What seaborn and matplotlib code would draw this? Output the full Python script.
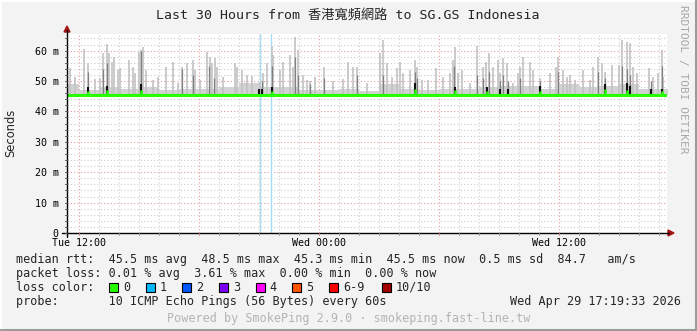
import matplotlib
matplotlib.use("Agg")
import matplotlib.pyplot as plt
import seaborn as sns
import numpy as np
import pandas as pd
from matplotlib.patches import Rectangle, Polygon
from matplotlib.lines import Line2D
from matplotlib.ticker import MultipleLocator, FixedLocator

# ---------------- data (hours relative to Tue 12:00, values in ms) ----------------
median_hours = [-1, 0, 1, 2, 3, 4, 5, 6, 7, 8, 9, 10, 11, 12, 13, 14, 15, 16, 17, 18,
                19, 20, 21, 22, 23, 24, 25, 26, 27, 28, 29, 30]
median_rtt = [45.5, 45.5, 45.5, 45.5, 45.5, 45.5, 45.5, 45.5, 45.5, 45.5, 45.5, 45.5,
              45.5, 45.5, 45.5, 45.5, 45.5, 45.5, 45.5, 45.5, 45.5, 45.5, 45.5, 45.5,
              45.5, 45.5, 45.5, 45.5, 45.5, 45.5, 45.5, 45.5]
# hourly smoke envelope (upper edge of the dense smoke band)
smoke_base = [49.0, 47.0, 48.0, 47.5, 48.0, 47.0, 47.5, 47.5, 48.0, 49.5, 48.0, 48.0,
              47.0, 47.0, 47.5, 46.8, 49.0, 47.5, 47.0, 47.5, 47.5, 48.0, 48.5, 48.5,
              47.5, 49.0, 48.0, 48.5, 49.0, 47.5, 47.5, 47.5]
# light smoke spikes (max ping)
spike_hours = [-0.47, -0.22, 0.235, 0.45, 0.785, 1.035, 1.17, 1.40, 1.50, 1.62, 1.735,
               1.95, 2.035, 2.50, 2.67, 2.785, 3.0, 3.07, 3.2, 3.335, 3.7, 3.95, 4.335,
               4.70, 4.95, 5.135, 5.37, 5.70, 5.785, 6.035, 6.37, 6.535, 6.62, 6.785,
               6.87, 7.2, 7.785, 7.9, 8.12, 8.37, 8.62, 9.035, 9.2, 9.37, 9.62, 9.70,
               10.035, 10.2, 10.535, 10.67, 10.8, 10.95, 11.37,
               11.2, 11.535, 11.785, 12.235, 12.70, 13.2, 13.45, 13.67, 13.9, 14.37,
               15.035, 15.17, 15.4, 15.62, 15.87, 16.035, 16.2, 16.535, 16.785, 16.87,
               17.12, 17.45, 17.82, 18.2, 18.535, 18.67, 18.8, 18.95, 19.12, 19.535,
               19.87, 20.17, 20.335, 20.485, 20.67, 20.95, 21.035, 21.2, 21.37, 21.7,
               21.95, 22.035, 22.2, 22.535, 22.7, 23.035, 23.535, 23.835, 23.95, 24.2,
               24.37, 24.535, 24.785, 25.2, 25.535, 25.7, 25.95, 26.12, 26.285, 26.62,
               27.0, 27.12, 27.37, 27.535, 27.7, 27.87, 28.5, 28.7, 28.95, 29.12, 29.2]
spike_max = [54.2, 51.4, 60.5, 55.8, 50.5, 50.9, 59.1, 62.2, 59.1, 56.4, 58.0,
             53.6, 54.2, 56.9, 54.7, 52.5, 59.65, 60.2, 61.3, 53.6, 50.3, 51.4, 54.7,
             56.4, 49.2, 54.7, 55.8, 56.9, 53.6, 50.3, 59.65, 58.0, 55.8, 57.5,
             54.7, 51.4, 55.8, 54.7, 53.6, 52.0, 51.8, 49.8, 52.5, 55.8, 61.5, 58.5,
             53.6, 56.4, 58.5, 54.7, 64.4, 60.2, 50.3,
             51.9, 50.0, 51.4, 54.7, 50.0, 50.5, 56.4, 54.7, 54.7, 49.5,
             59.1, 63.5, 55.8, 51.4, 54.2, 56.4, 52.5, 53.6, 56.9, 54.7,
             50.3, 50.3, 54.2, 51.4, 52.5, 56.9, 61.3, 52.5, 53.6, 49.5,
             61.5, 54.7, 56.4, 59.1, 54.7, 56.9, 52.5, 57.5, 55.8, 49.2,
             52.5, 54.7, 58.0, 56.4, 53.6, 50.9, 52.5, 54.7, 58.0, 53.6,
             51.4, 52.0, 50.3, 53.6, 50.3, 54.7, 58.0, 55.8, 53.0, 55.3,
             55.3, 63.5, 62.9, 62.4, 54.7, 52.5, 54.2, 51.4, 52.5, 60.2, 51.4]
# darker smoke (inner pings)
mid_hours = [0.45, 1.17, 1.40, 3.07, 5.12, 5.70, 6.5, 6.74, 9.12, 9.62, 10.8, 10.95,
             11.535, 12.235, 13.9, 15.17, 16.785, 16.87, 18.74, 19.87, 20.17, 20.485,
             21.035, 21.2, 21.45, 22.035, 23.035, 23.95, 25.95, 26.285, 27.12, 27.37,
             27.535, 28.6, 29.12]
mid_max = [53.0, 54.0, 56.0, 60.0, 54.0, 52.0, 55.0, 51.0, 50.0, 55.0, 58.0, 52.0,
           49.0, 51.0, 52.0, 52.0, 53.0, 51.0, 55.0, 52.0, 51.0, 53.0,
           50.0, 52.0, 50.0, 51.0, 50.0, 53.0, 53.0, 51.0, 55.0, 54.0,
           52.0, 50.0, 55.0]
dark_hours = [0.45, 1.40, 3.07, 9.0, 9.12, 9.62, 16.8, 18.8, 20.4, 21.05, 21.45,
              23.03, 26.3, 27.37, 27.53, 28.6, 29.12]
dark_max = [48.0, 48.5, 49.0, 47.5, 47.5, 48.0, 49.5, 48.0, 48.0, 47.5, 47.5,
            48.5, 49.0, 49.5, 48.5, 47.5, 47.5]
blip_hours = [0.45, 1.40, 3.07, 9.62, 16.8, 18.8, 20.4, 23.03, 26.3, 27.37, 29.12]
blip_val = [46.8, 47.2, 47.0, 46.8, 47.5, 46.9, 46.7, 46.8, 47.4, 47.2, 46.6]
loss_hours = [9.035, 9.6]

x_ticks_major = [0, 6, 12, 18, 24]
x_tick_labels = {0: "Tue 12:00", 12: "Wed 00:00", 24: "Wed 12:00"}
y_ticks = [0, 10, 20, 30, 40, 50, 60]
y_tick_labels = ["0", "10 m", "20 m", "30 m", "40 m", "50 m", "60 m"]

loss_labels = ["0", "1", "2", "3", "4", "5", "6-9", "10/10"]
loss_colors = ["#26ff00", "#00b8ff", "#0059ff", "#7e00ff", "#ff00ff", "#ff5500",
               "#ff0000", "#a10000"]

# ---------------- figure ----------------
sns.set_style("white")
plt.rcParams["font.family"] = ["DejaVu Sans Mono", "Noto Sans CJK TC"]

W, H = 697, 331
BG = "#f3f3f3"
fig = plt.figure(figsize=(W / 100, H / 100), dpi=100, facecolor=BG)

def fx(px):
    return px / W

def fy(py):
    return 1 - py / H

L, R, T, B = 67, 667, 33.9, 233
XMIN, XMAX = -0.615, 29.385
ax = fig.add_axes([fx(L), fy(B), (R - L) / W, (B - T) / H])
ax.set_facecolor("white")
ax.set_xlim(XMIN, XMAX)
ax.set_ylim(0, 65.5)

# grid
ax.xaxis.set_major_locator(FixedLocator(x_ticks_major))
ax.xaxis.set_minor_locator(MultipleLocator(1))
ax.yaxis.set_major_locator(FixedLocator(y_ticks))
ax.yaxis.set_minor_locator(MultipleLocator(2))
ax.grid(which="minor", color="#cccccc", linestyle=(0, (1, 2)), linewidth=0.8)
ax.grid(which="major", color="#e39a9a", linestyle=(0, (1, 2)), linewidth=0.8)
ax.set_axisbelow(True)

# smoke
ax.fill_between(median_hours, median_rtt, smoke_base, step="post", color="#d2d2d2",
                linewidth=0, zorder=2)
ax.vlines(spike_hours, 45.5, spike_max, color="#c2c2c2", linewidth=1.2, zorder=3)
ax.vlines(mid_hours, 45.5, mid_max, color="#808080", linewidth=0.9, zorder=4)
ax.vlines(dark_hours, 45.5, dark_max, color="#111111", linewidth=1.5, zorder=5)

# loss lines
for h in loss_hours:
    ax.axvline(h, color="#a6dcf4", linewidth=1.0, zorder=2.5)

# median
df = pd.DataFrame({"hours": median_hours, "rtt": median_rtt})
sns.lineplot(data=df, x="hours", y="rtt", ax=ax, color="#26ff00", linewidth=2.2,
             zorder=6, legend=False)
ax.vlines(blip_hours, 45.5, blip_val, color="#26ff00", linewidth=1.8, zorder=7)

# ticks and labels
ax.set_xlabel("")
ax.set_ylabel("")
ax.set_xticklabels([x_tick_labels.get(t, "") for t in x_ticks_major])
ax.set_yticklabels(y_tick_labels)
ax.tick_params(axis="x", which="both", length=0, labelsize=7.2, pad=3.5, colors="black")
ax.tick_params(axis="y", which="both", length=0, labelsize=7.2, pad=6, colors="black")
for s in ax.spines.values():
    s.set_visible(False)

# axis lines, small ticks and arrows (pixel decoration)
fig.add_artist(Line2D([fx(L), fx(L)], [fy(B + 4), fy(30)], color="black", lw=1.0))
fig.add_artist(Line2D([fx(62), fx(669)], [fy(B), fy(B)], color="black", lw=1.0))
for t in range(0, 66, 2):
    py = B - (B - T) * t / 65.5
    fig.add_artist(Line2D([fx(L - 2), fx(L)], [fy(py), fy(py)], color="#555555", lw=0.7))
for hr in range(0, 30):
    px = L + (R - L) * (hr - XMIN) / (XMAX - XMIN)
    col = "#d08080" if hr % 6 == 0 else "#999999"
    fig.add_artist(Line2D([fx(px), fx(px)], [fy(B + 2), fy(B)], color=col, lw=0.7))
fig.add_artist(Polygon([[fx(L - 3), fy(32)], [fx(L + 3), fy(32)], [fx(L), fy(26)]],
                       closed=True, color="#a31515"))
fig.add_artist(Polygon([[fx(668), fy(B - 3)], [fx(668), fy(B + 3)], [fx(674), fy(B)]],
                       closed=True, color="#a31515"))

# y label
fig.text(fx(11), fy(133), "Seconds", rotation=90, ha="center", va="center",
         fontsize=8.3, family="DejaVu Sans")

# title
fig.text(fx(348), fy(15), "Last 30 Hours from 香港寬頻網路 to SG.GS Indonesia",
         ha="center", va="center", fontsize=9.5,
         family=["DejaVu Sans Mono", "Noto Sans CJK TC"])

# right vertical credit
fig.text(fx(683), fy(5), "RRDTOOL / TOBI OETIKER", rotation=270, ha="center",
         va="top", fontsize=8.0, color="#a8a8a8")

# legend text
FS = 8.5
fig.text(fx(16), fy(259.5),
         "median rtt:  45.5 ms avg  48.5 ms max  45.3 ms min  45.5 ms now  0.5 ms sd  84.7   am/s",
         ha="left", va="center", fontsize=FS)
fig.text(fx(16), fy(273.5),
         "packet loss: 0.01 % avg  3.61 % max  0.00 % min  0.00 % now",
         ha="left", va="center", fontsize=FS)
fig.text(fx(16), fy(287.5), "loss color:", ha="left", va="center", fontsize=FS)
box_x = [109, 145.7, 182.3, 219, 255.7, 292.3, 329, 381.7]
for bx, lab, col in zip(box_x, loss_labels, loss_colors):
    fig.add_artist(Rectangle((fx(bx), fy(292)), 9 / W, 9 / H, facecolor=col,
                             edgecolor="black", linewidth=0.8))
    fig.text(fx(bx + 14), fy(287.5), lab, ha="left", va="center", fontsize=FS)
fig.text(fx(16), fy(301.5),
         "probe:       10 ICMP Echo Pings (56 Bytes) every 60s",
         ha="left", va="center", fontsize=FS)
fig.text(fx(681), fy(301.5), "Wed Apr 29 17:19:33 2026", ha="right", va="center",
         fontsize=FS)
fig.text(fx(348.5), fy(318.5),
         "Powered by SmokePing 2.9.0 · smokeping.fast-line.tw",
         ha="center", va="center", fontsize=FS, color="#b4b4b4")

# frame (3D border)
fig.add_artist(Line2D([fx(0), fx(W)], [fy(0.5), fy(0.5)], color="#ffffff", lw=1.5))
fig.add_artist(Line2D([fx(0.5), fx(0.5)], [fy(0), fy(H)], color="#ffffff", lw=1.5))
fig.add_artist(Line2D([fx(W - 1.5), fx(W - 1.5)], [fy(0), fy(H)], color="#9c9c9c", lw=2.2))
fig.add_artist(Line2D([fx(0), fx(W)], [fy(H - 1.5), fy(H - 1.5)], color="#9c9c9c", lw=2.2))

fig.savefig("out.png", dpi=100, facecolor=BG)
